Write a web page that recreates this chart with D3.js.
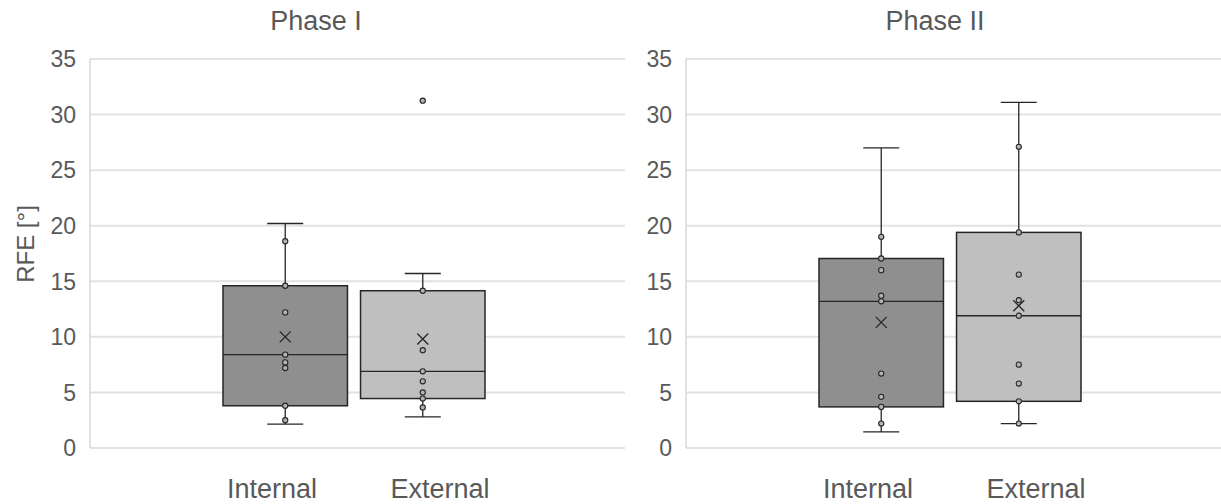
<!DOCTYPE html>
<html>
<head>
<meta charset="utf-8">
<script src="https://cdn.jsdelivr.net/npm/d3@7"></script>
<style>
  body { margin: 0; background: #fff; }
  text { font-family: "Liberation Sans", Arial, sans-serif; fill: #595959; }
</style>
</head>
<body>
<div id="chart"></div>
<script>
// values
var phases = ["Phase I", "Phase II"];
var categories = ["Internal", "External"];
var yTicks = [0, 5, 10, 15, 20, 25, 30, 35];

// per phase, per category: [whiskerLow, q1, median, q3, whiskerHigh]
var boxStats = [
  [[2.15, 3.8, 8.4, 14.6, 20.2], [2.8, 4.45, 6.9, 14.15, 15.7]],
  [[1.45, 3.7, 13.2, 17.05, 27.0], [2.2, 4.2, 11.9, 19.4, 31.1]]
];
var means = [[10.0, 9.8], [11.3, 12.8]];
var innerPoints = [
  [[18.6, 14.6, 12.2, 8.4, 7.7, 7.2, 3.8, 2.5], [14.15, 8.8, 6.9, 6.0, 5.0, 4.45, 3.65]],
  [[19.0, 17.05, 16.0, 13.7, 13.2, 6.7, 4.6, 3.7, 2.2], [27.1, 19.4, 15.6, 13.3, 11.9, 7.5, 5.8, 4.2, 2.2]]
];
var outliers = [[[], [31.25]], [[], []]];

var width = 1221,
    height = 504;
var panelW = 535,
    panelLeft = [90, 686],
    titleX = [316, 935];

var svg = d3.select("#chart")
            .append("svg")
            .attr("width", width)
            .attr("height", height);

var y = d3.scaleLinear().domain([0, 35]).range([448, 59]);

var x = d3.scaleBand()
    .domain(categories)
    .range([133, 395])
    .paddingInner(0.095);

var xLabel = d3.scalePoint()
    .domain(categories)
    .range([182, 350]);

var fills = ["#8f8f8f", "#bfbfbf"];

// y axis title
svg.append("text")
   .attr("transform", "translate(34,244) rotate(-90)")
   .attr("text-anchor", "middle")
   .style("font-size", "24px")
   .text("RFE [°]");

phases.forEach(function(phase, p) {
  var g = svg.append("g").attr("transform", "translate(" + panelLeft[p] + ",0)");

  // gridlines
  g.selectAll("line.grid")
   .data(yTicks)
   .enter().append("line")
   .attr("class", "grid")
   .attr("x1", 0).attr("x2", panelW)
   .attr("y1", function(d){ return y(d); })
   .attr("y2", function(d){ return y(d); })
   .attr("stroke", "#e2e2e2")
   .attr("stroke-width", 2);

  // axis line
  g.append("line")
   .attr("x1", 0).attr("x2", 0)
   .attr("y1", y(35)).attr("y2", y(0))
   .attr("stroke", "#d9d9d9")
   .attr("stroke-width", 1.5);

  // tick labels
  g.selectAll("text.tick")
   .data(yTicks)
   .enter().append("text")
   .attr("class", "tick")
   .attr("x", -14)
   .attr("y", function(d){ return y(d); })
   .attr("dy", "0.36em")
   .attr("text-anchor", "end")
   .style("font-size", "23px")
   .text(function(d){ return d; });

  // title
  svg.append("text")
     .attr("x", titleX[p])
     .attr("y", 30)
     .attr("text-anchor", "middle")
     .style("font-size", "27px")
     .text(phase);

  categories.forEach(function(cat, c) {
    var s = boxStats[p][c],
        x0 = x(cat),
        bw = x.bandwidth(),
        cx = x0 + bw / 2,
        cap = 18;

    // whiskers
    g.append("line")
     .attr("x1", cx).attr("x2", cx)
     .attr("y1", y(s[0])).attr("y2", y(s[4]))
     .attr("stroke", "#262626").attr("stroke-width", 1.3);
    [s[0], s[4]].forEach(function(v) {
      g.append("line")
       .attr("x1", cx - cap).attr("x2", cx + cap)
       .attr("y1", y(v)).attr("y2", y(v))
       .attr("stroke", "#262626").attr("stroke-width", 1.3);
    });

    // box
    g.append("rect")
     .attr("x", x0)
     .attr("y", y(s[3]))
     .attr("width", bw)
     .attr("height", y(s[1]) - y(s[3]))
     .attr("fill", fills[c])
     .attr("stroke", "#262626")
     .attr("stroke-width", 1.5);

    // median
    g.append("line")
     .attr("x1", x0).attr("x2", x0 + bw)
     .attr("y1", y(s[2])).attr("y2", y(s[2]))
     .attr("stroke", "#262626").attr("stroke-width", 1.3);

    // points
    g.selectAll("circle.pt" + c)
     .data(innerPoints[p][c].concat(outliers[p][c]))
     .enter().append("circle")
     .attr("class", "pt" + c)
     .attr("cx", cx)
     .attr("cy", function(d){ return y(d); })
     .attr("r", 2.6)
     .attr("fill", "#b3b3b3")
     .attr("stroke", "#262626")
     .attr("stroke-width", 1.1);

    // mean marker
    var my = y(means[p][c]), m = 5.5;
    g.append("path")
     .attr("d", "M" + (cx - m) + "," + (my - m) + "L" + (cx + m) + "," + (my + m) +
                "M" + (cx - m) + "," + (my + m) + "L" + (cx + m) + "," + (my - m))
     .attr("stroke", "#262626")
     .attr("stroke-width", 1.3)
     .attr("fill", "none");

    // category label
    g.append("text")
     .attr("x", xLabel(cat))
     .attr("y", 498)
     .attr("text-anchor", "middle")
     .style("font-size", "27px")
     .text(cat);
  });
});
</script>
</body>
</html>
